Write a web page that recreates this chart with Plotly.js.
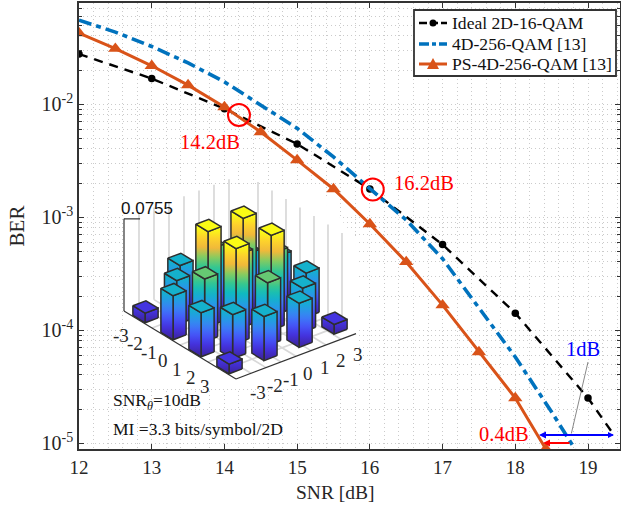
<!DOCTYPE html>
<html><head><meta charset="utf-8">
<script src="https://cdn.plot.ly/plotly-3.0.1.min.js"></script>
<style>html,body{margin:0;padding:0;background:#fff}#g{width:621px;height:508px}</style>
</head><body><div id="g"></div>
<script>
const idealX=[12,13,14,15,16,17,18,19,19.36];
const idealY=[0.0277,0.0168,0.0091,0.00443,0.00177,0.00057,0.000141,0.000025,0.0000117];
const idealMarkX=[12,13,14,15,16,17,18,19];
const idealMarkY=[0.0277,0.0168,0.0091,0.00443,0.00177,0.00057,0.000141,0.000025];
const qam4dX=[12,12.5,13,13.5,14,14.5,15,15.5,16,16.5,17,17.5,18,18.5,18.82];
const qam4dY=[0.0553,0.0433,0.0323,0.0231,0.0157,0.0098,0.0061,0.0034,0.00177,0.00094,0.000427,0.000157,0.0000577,0.0000188,0.00000885];
const psX=[12,12.5,13,13.5,14,14.5,15,15.5,16,16.5,17,17.5,18,18.42];
const psY=[0.0425,0.0309,0.0218,0.0147,0.0094,0.00565,0.00319,0.00177,0.000867,0.0004,0.000166,0.0000638,0.000025,0.00000885];
const circleX=[14.2,16.04];
const circleY=[0.008,0.00175];
const outerA=[-3,-1,1,3], outerB=[-3.5,-1.17,1.17,3.5];
const outerH=[[0.0077,0.035,0.035,0.0077],[0.035,0.0755,0.0755,0.035],[0.035,0.0755,0.0755,0.035],[0.0077,0.035,0.035,0.0077]];
const innerA=[-2,0,2], innerB=[-2.33,0,2.33];
const innerH=[[0.035,0.0498,0.035],[0.0498,0.059,0.0498],[0.035,0.0498,0.035]];
const tickVals3d=[-3,-2,-1,0,1,2,3];
const legendNames=['Ideal 2D-16-QAM','4D-256-QAM [13]','PS-4D-256-QAM [13]'];
const parula=[[0,[62,38,168]],[0.1,[68,51,224]],[0.2,[69,87,249]],[0.3,[58,129,245]],[0.4,[31,161,224]],[0.5,[15,186,192]],[0.6,[54,199,143]],[0.7,[134,203,96]],[0.8,[240,185,58]],[0.9,[253,210,44]],[1,[250,251,21]]];
const zMax=0.0755, wallZ=0.0732, W=0.87, LIM=4;
const serif='Liberation Serif, serif';
const dark='#262626';

/* inset projection: oblique view onto a px-scaled overlay axis pair */
const ORIGIN=[240,322.3], U=[14,8.5], V=[15,-5.67], ZS=95/zMax;
const PX0=79,PX1=620,PY0=3,PY1=449;
const X=(a,b)=>a*U[0]+b*V[0];
const Y=(a,b,z)=>-(a*U[1]+b*V[1])+z*ZS;
const fx=p=>(p-PX0)/(PX1-PX0), fy=p=>(PY1-p)/(PY1-PY0);
const dataX=p=>12+(p-79)/72.72, dataY=p=>Math.pow(10,-2+(104-p)/113);
function colorAt(t){
  t=Math.max(0,Math.min(1,t));
  for(let i=1;i<parula.length;i++){
    if(t<=parula[i][0]){
      const [t0,c0]=parula[i-1],[t1,c1]=parula[i],f=(t-t0)/(t1-t0);
      return 'rgb('+c0.map((c,k)=>Math.round(c+(c1[k]-c)*f)).join(',')+')';
    }
  }
  return 'rgb(250,251,21)';
}
const on={xaxis:'x2',yaxis:'y2',showlegend:false,hoverinfo:'skip'};
const bars=[];
outerA.forEach((a,i)=>outerB.forEach((b,j)=>bars.push([a,b,outerH[i][j]])));
innerA.forEach((a,i)=>innerB.forEach((b,j)=>bars.push([a,b,innerH[i][j]])));
bars.sort((p,q)=>(p[0]*U[1]+p[1]*V[1])-(q[0]*U[1]+q[1]*V[1]));
const barTraces=[];
function sideFace(a0,b0,a1,b1,h){
  const scale=[];
  for(let s=0;s<=10;s++)scale.push([s/10,colorAt(s/10*h/zMax)]);
  const ac=(a0+a1)/2,bc=(b0+b1)/2;
  return Object.assign({type:'scatter',mode:'lines',
    x:[X(a0,b0),X(a1,b1),X(a1,b1),X(a0,b0),X(a0,b0)],
    y:[Y(a0,b0,0),Y(a1,b1,0),Y(a1,b1,h),Y(a0,b0,h),Y(a0,b0,0)],
    fill:'toself',fillgradient:{type:'vertical',colorscale:scale,start:Y(ac,bc,0),stop:Y(ac,bc,h)},
    line:{color:'#2e2e2e',width:1.5}},on);
}
bars.forEach(([a,b,h])=>{
  const d=W/2;
  barTraces.push(sideFace(a+d,b+d,a+d,b-d,h));
  barTraces.push(sideFace(a+d,b-d,a-d,b-d,h));
  const c=[[a-d,b-d],[a+d,b-d],[a+d,b+d],[a-d,b+d],[a-d,b-d]];
  barTraces.push(Object.assign({type:'scatter',mode:'lines',x:c.map(p=>X(p[0],p[1])),y:c.map(p=>Y(p[0],p[1],h)),
    fill:'toself',fillcolor:colorAt(h/zMax),line:{color:'#2e2e2e',width:1.5}},on));
});
const gx=[],gy=[],ax=[],ay=[];
const seg=(ox,oy,p,q)=>{ox.push(X(p[0],p[1]),X(q[0],q[1]),null);oy.push(Y(p[0],p[1],p[2]),Y(q[0],q[1],q[2]),null);};
tickVals3d.forEach(t=>{
  seg(gx,gy,[-LIM,t,0],[-LIM,t,wallZ]);
  seg(gx,gy,[t,LIM,0],[t,LIM,wallZ]);
  seg(gx,gy,[-LIM,t,0],[LIM,t,0]);
  seg(gx,gy,[t,-LIM,0],[t,LIM,0]);
});
seg(ax,ay,[-LIM,-LIM,0],[-LIM,-LIM,wallZ]);
seg(ax,ay,[-LIM,-LIM,wallZ],[-LIM+0.44,-LIM+0.66,wallZ]);
seg(ax,ay,[-LIM,-LIM,0],[LIM,-LIM,0]);
seg(ax,ay,[LIM,-LIM,0],[LIM,LIM,0]);

const mid={xanchor:'center',yanchor:'middle',showarrow:false};
const insetAnn=[];
tickVals3d.forEach(t=>{
  insetAnn.push(Object.assign({xref:'x2',yref:'y2',x:X(t,-LIM),y:Y(t,-LIM,0),text:String(t),xshift:-17,yshift:-16,font:{family:serif,size:19,color:dark}},mid));
  insetAnn.push(Object.assign({xref:'x2',yref:'y2',x:X(LIM,t*1.11),y:Y(LIM,t*1.11,0),text:String(t),xshift:12,yshift:-17,font:{family:serif,size:19,color:dark}},mid));
});
insetAnn.push({xref:'x2',yref:'y2',x:X(-LIM,-LIM),y:Y(-LIM,-LIM,wallZ),text:'0.0755',showarrow:false,xanchor:'left',yanchor:'middle',xshift:-5,yshift:10,font:{family:'Liberation Sans, sans-serif',size:17,color:'#111'}});

const legendRows=[23,44,64];
const traces=[
 {type:'scatter',x:[dataX(123),dataX(358),dataX(358),dataX(345),dataX(320),dataX(123)],y:[dataY(388),dataY(388),dataY(240),dataY(225),dataY(187),dataY(187)],mode:'none',fill:'toself',fillcolor:'#fff',showlegend:false,hoverinfo:'skip'},
 {type:'scatter',x:idealX,y:idealY,mode:'lines',line:{color:'#000',width:2.4,dash:'9px,7px'},showlegend:false,hoverinfo:'skip'},
 {type:'scatter',x:idealMarkX,y:idealMarkY,mode:'markers',marker:{color:'#000',size:7.5},showlegend:false,hoverinfo:'skip'},
 {type:'scatter',x:qam4dX,y:qam4dY,mode:'lines',line:{color:'#0072BD',width:3.6,dash:'13px,5px,5px,5px'},showlegend:false,hoverinfo:'skip'},
 {type:'scatter',x:psX,y:psY,mode:'lines+markers',line:{color:'#D95319',width:3},marker:{color:'#D95319',size:12.5,symbol:'triangle-up'},showlegend:false,hoverinfo:'skip'},
 {type:'scatter',x:circleX,y:circleY,mode:'markers',marker:{symbol:'circle-open',size:22,color:'#FF0000',line:{width:2,color:'#FF0000'}},showlegend:false,hoverinfo:'skip'},
 Object.assign({type:'scatter',x:gx,y:gy,mode:'lines',line:{color:'#d8d8d8',width:1.7}},on),
 Object.assign({type:'scatter',x:ax,y:ay,mode:'lines',line:{color:'#333',width:1.2}},on),
 ...barTraces
];
const gridCol='#cbcbcb';
const legLine=(row,color,width,dash)=>({type:'line',xref:'paper',yref:'paper',x0:fx(419),x1:fx(447),y0:fy(row),y1:fy(row),layer:'above',line:{color,width,dash}});
const legText=legendNames.map((t,i)=>({xref:'paper',yref:'paper',x:fx(450),y:fy(legendRows[i]),xanchor:'left',yanchor:'middle',text:t,showarrow:false,font:{family:serif,size:17.6,color:'#111'}}));
const red={family:serif,size:20.5,color:'#FF0000'};
const pa=(px,py,text,font,anchor)=>Object.assign({xref:'paper',yref:'paper',x:fx(px),y:fy(py),text,font},mid,anchor?{xanchor:anchor}:{});
const layout={
 width:621,height:508,margin:{l:79,r:1,t:3,b:59},paper_bgcolor:'#fff',plot_bgcolor:'#fff',showlegend:false,
 font:{family:serif,color:dark},
 xaxis:{type:'linear',range:[12,19.44],dtick:1,tick0:12,ticks:'inside',ticklen:5,tickwidth:1,tickcolor:'#333',mirror:'ticks',showline:true,linecolor:'#333',linewidth:1.8,
   tickfont:{family:serif,size:19,color:dark},showgrid:true,gridcolor:gridCol,griddash:'1px,3px',gridwidth:1,zeroline:false,
   minor:{dtick:0.2,tick0:12,showgrid:true,gridcolor:gridCol,griddash:'1px,3px',gridwidth:1,ticks:''}},
 yaxis:{type:'log',range:[-5.053,-1.106],tickmode:'array',tickvals:[1e-5,1e-4,1e-3,1e-2],ticktext:['10<sup>-5</sup>','10<sup>-4</sup>','10<sup>-3</sup>','10<sup>-2</sup>'],ticks:'inside',ticklen:5,tickwidth:1,tickcolor:'#333',mirror:'ticks',showline:true,linecolor:'#333',linewidth:1.8,
   tickfont:{family:serif,size:20,color:dark},showgrid:true,gridcolor:gridCol,griddash:'1px,3px',gridwidth:1,zeroline:false,
   minor:{dtick:'D1',showgrid:true,gridcolor:gridCol,griddash:'1px,3px',gridwidth:1,ticks:'inside',ticklen:3,tickcolor:'#333'},
   title:{text:'BER',font:{family:serif,size:21,color:dark},standoff:11}},
 xaxis2:{overlaying:'x',anchor:'y2',visible:false,range:[PX0-ORIGIN[0],PX1-ORIGIN[0]]},
 yaxis2:{overlaying:'y',anchor:'x2',visible:false,range:[ORIGIN[1]-PY1,ORIGIN[1]-PY0]},
 shapes:[
  {type:'rect',xref:'paper',yref:'paper',x0:fx(414),x1:fx(616),y0:fy(76),y1:fy(10),fillcolor:'#fff',line:{color:'#333',width:1.8},layer:'above'},
  legLine(legendRows[0],'#000',2.4,'8px,3px'),
  legLine(legendRows[1],'#0072BD',3.6,'10px,3px,4px,3px'),
  legLine(legendRows[2],'#D95319',3,'solid'),
  {type:'circle',xref:'paper',yref:'paper',x0:fx(429.5),x1:fx(436.5),y0:fy(legendRows[0]+3.5),y1:fy(legendRows[0]-3.5),fillcolor:'#000',line:{width:0},layer:'above'},
  {type:'path',xref:'paper',yref:'paper',path:'M '+fx(427)+' '+fy(legendRows[2]+5)+' L '+fx(439)+' '+fy(legendRows[2]+5)+' L '+fx(433)+' '+fy(legendRows[2]-6)+' Z',fillcolor:'#D95319',line:{width:0},layer:'above'}
 ],
 annotations:[
  ...legText,
  pa(335,492,'SNR [dB]',{family:serif,size:19.5,color:dark}),
  pa(210,142,'14.2dB',red),
  pa(424,183,'16.2dB',red),
  pa(583,349,'1dB',{family:serif,size:20.5,color:'#0000FF'}),
  pa(504,434,'0.4dB',red),
  pa(111,401,'SNR<sub><i>θ</i></sub>=10dB',{family:serif,size:17.5,color:'#111'},'left'),
  pa(111,429,'MI =3.3 bits/symbol/2D',{family:serif,size:17.5,color:'#111'},'left'),
  ...insetAnn,
  {xref:'paper',yref:'paper',x:fx(539),y:fy(435),ax:75,ay:0,text:'',showarrow:true,arrowhead:2,arrowsize:0.7,arrowwidth:2,arrowcolor:'#0000FF'},
  {xref:'paper',yref:'paper',x:fx(614),y:fy(435),ax:-30,ay:0,text:'',showarrow:true,arrowhead:2,arrowsize:0.6,arrowwidth:2,arrowcolor:'#0000FF'},
  {xref:'paper',yref:'paper',x:fx(543),y:fy(443),ax:28,ay:0,text:'',showarrow:true,arrowhead:2,arrowsize:0.7,arrowwidth:2,arrowcolor:'#FF0000'},
  {xref:'paper',yref:'paper',x:fx(588),y:fy(362),ax:-17,ay:73,text:'',showarrow:true,arrowhead:0,arrowwidth:0.7,arrowcolor:'#555'}
 ]
};
Plotly.newPlot('g',traces,layout,{displayModeBar:false,staticPlot:true});
</script></body></html>
